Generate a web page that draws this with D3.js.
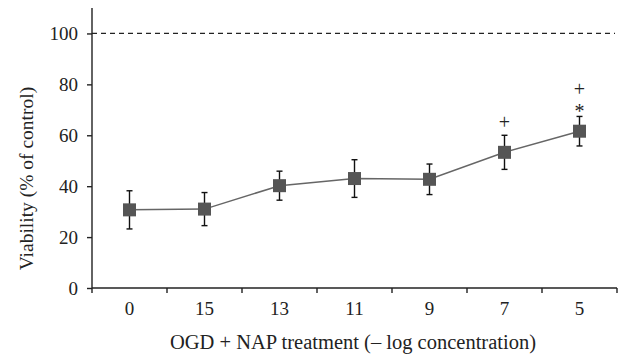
<!DOCTYPE html>
<html>
<head>
<meta charset="utf-8">
<script src="https://cdn.jsdelivr.net/npm/d3@7"></script>
<style>
  body { margin: 0; background: #fff; }
  text { font-family: "Liberation Serif", "DejaVu Serif", serif; fill: #222; }
</style>
</head>
<body>
<script>
// values
var categories = ["0", "15", "13", "11", "9", "7", "5"];
var viability = [30.7, 31.0, 40.2, 43.0, 42.7, 53.3, 61.6];
var errors = [7.5, 6.5, 5.7, 7.4, 6.0, 6.7, 5.8];
var marks = [[], [], [], [], [], ["+"], ["*", "+"]];
var yTicks = [0, 20, 40, 60, 80, 100];
var controlLevel = 100;

var width = 619, height = 356;
var margin = {left: 92, right: 2, top: 8, bottom: 68};

var svg = d3.select("body").append("svg")
    .attr("width", width)
    .attr("height", height);

var x = d3.scaleBand()
    .domain(categories)
    .range([margin.left, width - margin.right]);

var y = d3.scaleLinear()
    .domain([0, 110])
    .range([height - margin.bottom, margin.top]);

// dashed control line
svg.append("line")
    .attr("x1", margin.left)
    .attr("x2", width - margin.right - 2)
    .attr("y1", y(controlLevel))
    .attr("y2", y(controlLevel))
    .attr("stroke", "#222")
    .attr("stroke-width", 1.2)
    .attr("stroke-dasharray", "5,4");

// y axis
var yAxis = svg.append("g")
    .attr("transform", "translate(" + margin.left + ",0)")
    .call(d3.axisLeft(y).tickValues(yTicks).tickSize(5).tickPadding(9).tickSizeOuter(0));
yAxis.select(".domain").attr("stroke", "#222").attr("stroke-width", 1.4)
    .attr("d", "M0," + y(0) + "V" + margin.top);
yAxis.selectAll(".tick line").attr("stroke", "#222").attr("stroke-width", 1.4);
yAxis.selectAll(".tick text")
    .style("font-family", "'Liberation Serif', serif")
    .style("font-size", "19px").attr("fill", "#222");

// x axis with ticks between categories
var xAxisG = svg.append("g")
    .attr("transform", "translate(0," + y(0) + ")");
xAxisG.append("line")
    .attr("x1", margin.left).attr("x2", width - margin.right)
    .attr("stroke", "#222").attr("stroke-width", 1.4);
var edges = categories.map(function(c) { return x(c); }).concat([x(categories[categories.length - 1]) + x.bandwidth()]);
xAxisG.selectAll(".xt")
    .data(edges)
    .enter()
    .append("line")
    .attr("x1", function(d) { return d; })
    .attr("x2", function(d) { return d; })
    .attr("y1", 0).attr("y2", 5)
    .attr("stroke", "#222").attr("stroke-width", 1.4);
xAxisG.selectAll(".xl")
    .data(categories)
    .enter()
    .append("text")
    .attr("x", function(d) { return x(d) + x.bandwidth() / 2; })
    .attr("y", 27)
    .attr("text-anchor", "middle")
    .style("font-size", "19px")
    .text(function(d) { return d; });

// axis titles
svg.append("text")
    .attr("x", 353)
    .attr("y", 349)
    .attr("text-anchor", "middle")
    .style("font-size", "20.5px")
    .text("OGD + NAP treatment (\u2013 log concentration)");

svg.append("text")
    .attr("transform", "translate(33," + y(43) + ") rotate(-90)")
    .attr("text-anchor", "middle")
    .style("font-size", "19.5px")
    .text("Viability (% of control)");

var data = categories.map(function(c, i) {
    return {cat: c, v: viability[i], e: errors[i], m: marks[i]};
});
var cx = function(d) { return x(d.cat) + x.bandwidth() / 2; };

// connecting line
svg.append("path")
    .datum(data)
    .attr("fill", "none")
    .attr("stroke", "#666")
    .attr("stroke-width", 1.5)
    .attr("d", d3.line().x(cx).y(function(d) { return y(d.v); }));

// error bars
var eb = svg.selectAll(".err")
    .data(data)
    .enter()
    .append("g")
    .attr("stroke", "#111")
    .attr("stroke-width", 1.4);
eb.append("line")
    .attr("x1", cx).attr("x2", cx)
    .attr("y1", function(d) { return y(d.v + d.e); })
    .attr("y2", function(d) { return y(d.v - d.e); });
eb.append("line")
    .attr("x1", function(d) { return cx(d) - 3; }).attr("x2", function(d) { return cx(d) + 3; })
    .attr("y1", function(d) { return y(d.v + d.e); })
    .attr("y2", function(d) { return y(d.v + d.e); });
eb.append("line")
    .attr("x1", function(d) { return cx(d) - 3; }).attr("x2", function(d) { return cx(d) + 3; })
    .attr("y1", function(d) { return y(d.v - d.e); })
    .attr("y2", function(d) { return y(d.v - d.e); });

// square markers
svg.selectAll(".pt")
    .data(data)
    .enter()
    .append("rect")
    .attr("x", function(d) { return cx(d) - 6.5; })
    .attr("y", function(d) { return y(d.v) - 6.5; })
    .attr("width", 13)
    .attr("height", 13)
    .attr("fill", "#555");

// significance marks, stacked upward from the error bar top
data.forEach(function(d) {
    var top = y(d.v + d.e);
    var offset = d.m.length > 1 ? 9 : 13;
    d.m.forEach(function(s, k) {
        var center = top - offset - k * 18;
        svg.append("text")
            .attr("x", cx(d))
            .attr("y", center + (s === "*" ? 11 : 6.5))
            .attr("text-anchor", "middle")
            .style("font-size", "20px")
            .text(s);
    });
});
</script>
</body>
</html>
